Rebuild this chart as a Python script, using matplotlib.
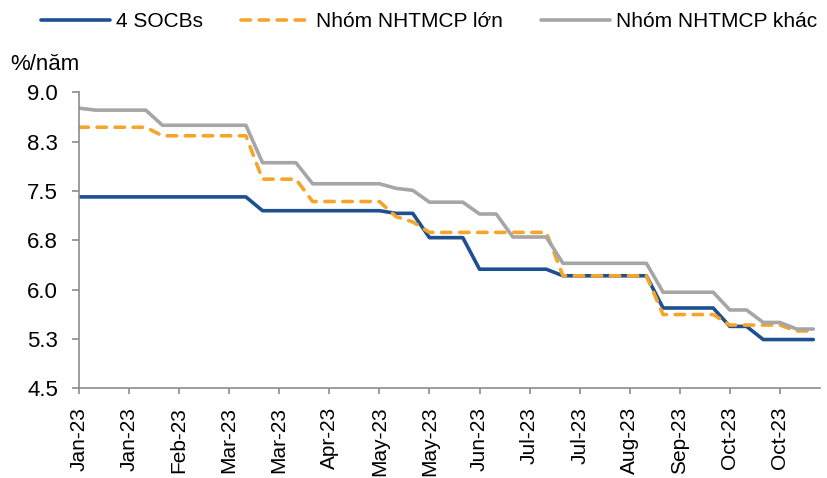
import matplotlib
matplotlib.use('Agg')
import matplotlib.pyplot as plt
import numpy as np

# weekly deposit rates, %/year
socbs = [7.41] * 11 + [7.20] * 8 + [7.16] * 2 + [6.79] * 3 + [6.31] * 5 \
    + [6.21] * 6 + [5.72] * 4 + [5.44] * 2 + [5.24] * 4
lon = [8.47] * 5 + [8.34] * 6 + [7.68] * 3 + [7.34] * 5 + [7.11, 7.03] \
    + [6.87] * 8 + [6.21] * 6 + [5.62] * 4 + [5.46] * 4 + [5.37] * 2
khac = [8.76] + [8.73] * 4 + [8.50] * 6 + [7.93] * 3 + [7.61] * 5 + [7.54, 7.51] \
    + [7.33] * 3 + [7.15] * 2 + [6.80] * 3 + [6.40] * 6 + [5.96] * 4 \
    + [5.69] * 2 + [5.50] * 2 + [5.40] * 2

series_names = ['4 SOCBs', 'Nhóm NHTMCP lớn', 'Nhóm NHTMCP khác']
x_labels = ['Jan-23', 'Jan-23', 'Feb-23', 'Mar-23', 'Mar-23', 'Apr-23', 'May-23',
            'May-23', 'Jun-23', 'Jul-23', 'Jul-23', 'Aug-23', 'Sep-23', 'Oct-23', 'Oct-23']
y_ticks = [4.5, 5.25, 6.0, 6.75, 7.5, 8.25, 9.0]
y_labels = ['4.5', '5.3', '6.0', '6.8', '7.5', '8.3', '9.0']

plt.rcParams['font.family'] = ['Liberation Sans', 'DejaVu Sans']

fig = plt.figure(figsize=(8.27, 4.78), dpi=100)
ax = fig.add_axes([0.0955, 0.1879, 0.896, 0.6188])

x = np.arange(len(socbs))
ax.plot(x, socbs, color='#1d4f91', lw=2.6, label=series_names[0],
        solid_capstyle='round', solid_joinstyle='round')
ax.plot(x, lon, color='#f5a52a', lw=2.6, label=series_names[1],
        dashes=(2.6, 2.4), dash_capstyle='round', dash_joinstyle='round')
ax.plot(x, khac, color='#a6a6a6', lw=2.6, label=series_names[2],
        solid_capstyle='round', solid_joinstyle='round')

ax.set_xlim(0, 44.4)
ax.set_ylim(4.5, 9.0)
ax.set_xticks(np.arange(0, 3 * len(x_labels), 3))
ax.set_xticklabels(x_labels, rotation=90, fontsize=15)
ax.set_yticks(y_ticks)
ax.set_yticklabels(y_labels, fontsize=16)

for s in ['top', 'right']:
    ax.spines[s].set_visible(False)
for s in ['left', 'bottom']:
    ax.spines[s].set_color('#8c8c8c')
    ax.spines[s].set_linewidth(1.2)
ax.tick_params(axis='y', direction='out', length=5, width=1.2, color='#8c8c8c', pad=10)
ax.tick_params(axis='x', direction='out', length=4.3, width=1.2, color='#8c8c8c', pad=9)

fig.text(10 / 827, 1 - 65 / 478, '%/năm', fontsize=16, va='center', ha='left')

fig.legend(loc='center', bbox_to_anchor=(0.519, 0.954), ncol=3, frameon=False,
           fontsize=15, handlelength=3.3, handletextpad=0.3, columnspacing=1.84,
           borderaxespad=0, borderpad=0)

fig.savefig('out.png', dpi=100)
